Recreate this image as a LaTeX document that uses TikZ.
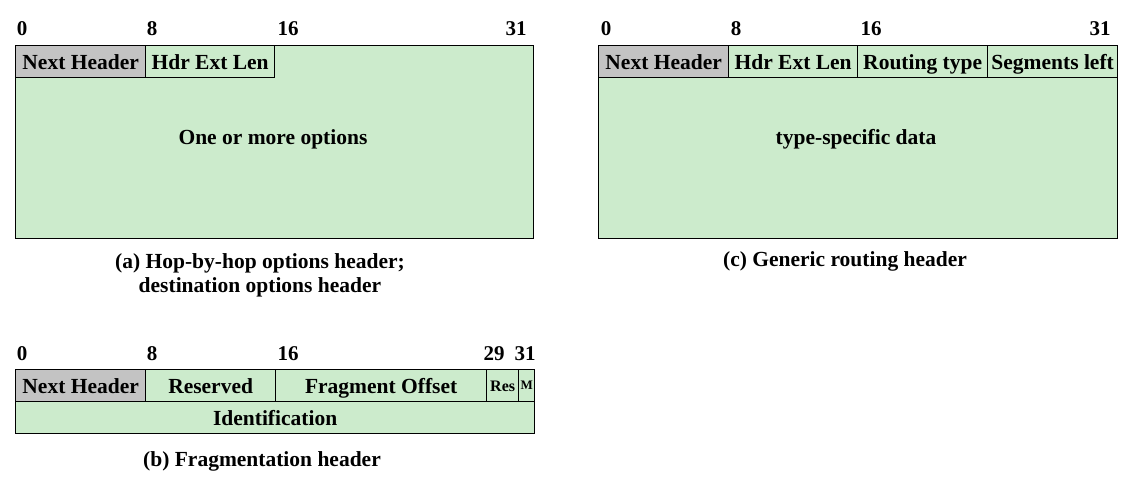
\documentclass[tikz,border=0pt]{standalone}
\usepackage{fontspec}
\setmainfont{Liberation Serif}
\definecolor{fgreen}{HTML}{CCEBCC}
\definecolor{fgrey}{HTML}{C3C3C3}
\begin{document}
\begin{tikzpicture}[x=1pt,y=-1pt,
  field/.style={draw=black, line width=1.3pt, fill=fgreen, inner sep=0pt, anchor=north west,
    text height=17pt, text depth=2pt,
    font=\fontsize{21.5}{23}\selectfont\bfseries},
  grey/.style={field, fill=fgrey},
  bitlabel/.style={font=\fontsize{21}{22}\selectfont\bfseries, inner sep=0pt},
  caption/.style={font=\fontsize{21.5}{24}\selectfont\bfseries, inner sep=0pt, align=center}]
\useasboundingbox (0,0) rectangle (1141,478);
% (a)
\node[field, minimum width=518, minimum height=193] (abody) at (15,45) {};
\node[grey, minimum width=130, minimum height=32] (anh) at (15,45) {Next Header};
\node[field, minimum width=129, minimum height=32] (ahel) at (145,45) {Hdr Ext Len};
\node[font=\fontsize{21.5}{23}\selectfont\bfseries] (aopt) at (273,139) {One or more options};
\node[bitlabel] (a0) at (22,29) {0};
\node[bitlabel] (a8) at (152,29) {8};
\node[bitlabel] (a16) at (288,29) {16};
\node[bitlabel] (a31) at (516,29) {31};
\node[caption] (acap) at (260,275) {(a) Hop-by-hop options header;\\destination options header};
% (c)
\node[field, minimum width=519, minimum height=193] (cbody) at (598,45) {};
\node[grey, minimum width=130, minimum height=32] (cnh) at (598,45) {Next Header};
\node[field, minimum width=129, minimum height=32] (chel) at (728,45) {Hdr Ext Len};
\node[field, minimum width=130, minimum height=32] (crt) at (857,45) {Routing type};
\node[field, minimum width=130, minimum height=32] (csl) at (987,45) {Segments left};
\node[font=\fontsize{21.5}{23}\selectfont\bfseries] (cdata) at (856,139) {type-specific data};
\node[bitlabel] (c0) at (606,29) {0};
\node[bitlabel] (c8) at (736,29) {8};
\node[bitlabel] (c16) at (871,29) {16};
\node[bitlabel] (c31) at (1100,29) {31};
\node[caption] (ccap) at (845,261) {(c) Generic routing header};
% (b)
\node[field, minimum width=519, minimum height=32] (bid) at (15,401) {Identification};
\node[grey, minimum width=130, minimum height=32] (bnh) at (15,369) {Next Header};
\node[field, minimum width=130, minimum height=32] (bres) at (145,369) {Reserved};
\node[field, minimum width=211, minimum height=32] (bfo) at (275,369) {Fragment Offset};
\node[field, minimum width=32, minimum height=32, text height=13pt, font=\fontsize{16}{17}\selectfont\bfseries] (br) at (486,369) {Res};
\node[field, minimum width=16, minimum height=32, text height=10pt, font=\fontsize{13}{14}\selectfont\bfseries] (bm) at (518,369) {M};
\node[bitlabel] (b0) at (22,354) {0};
\node[bitlabel] (b8) at (152,354) {8};
\node[bitlabel] (b16) at (288,354) {16};
\node[bitlabel] (b29) at (494,354) {29};
\node[bitlabel] (b31) at (525,354) {31};
\node[caption] (bcap) at (262,461) {(b) Fragmentation header};
\end{tikzpicture}
\end{document}
